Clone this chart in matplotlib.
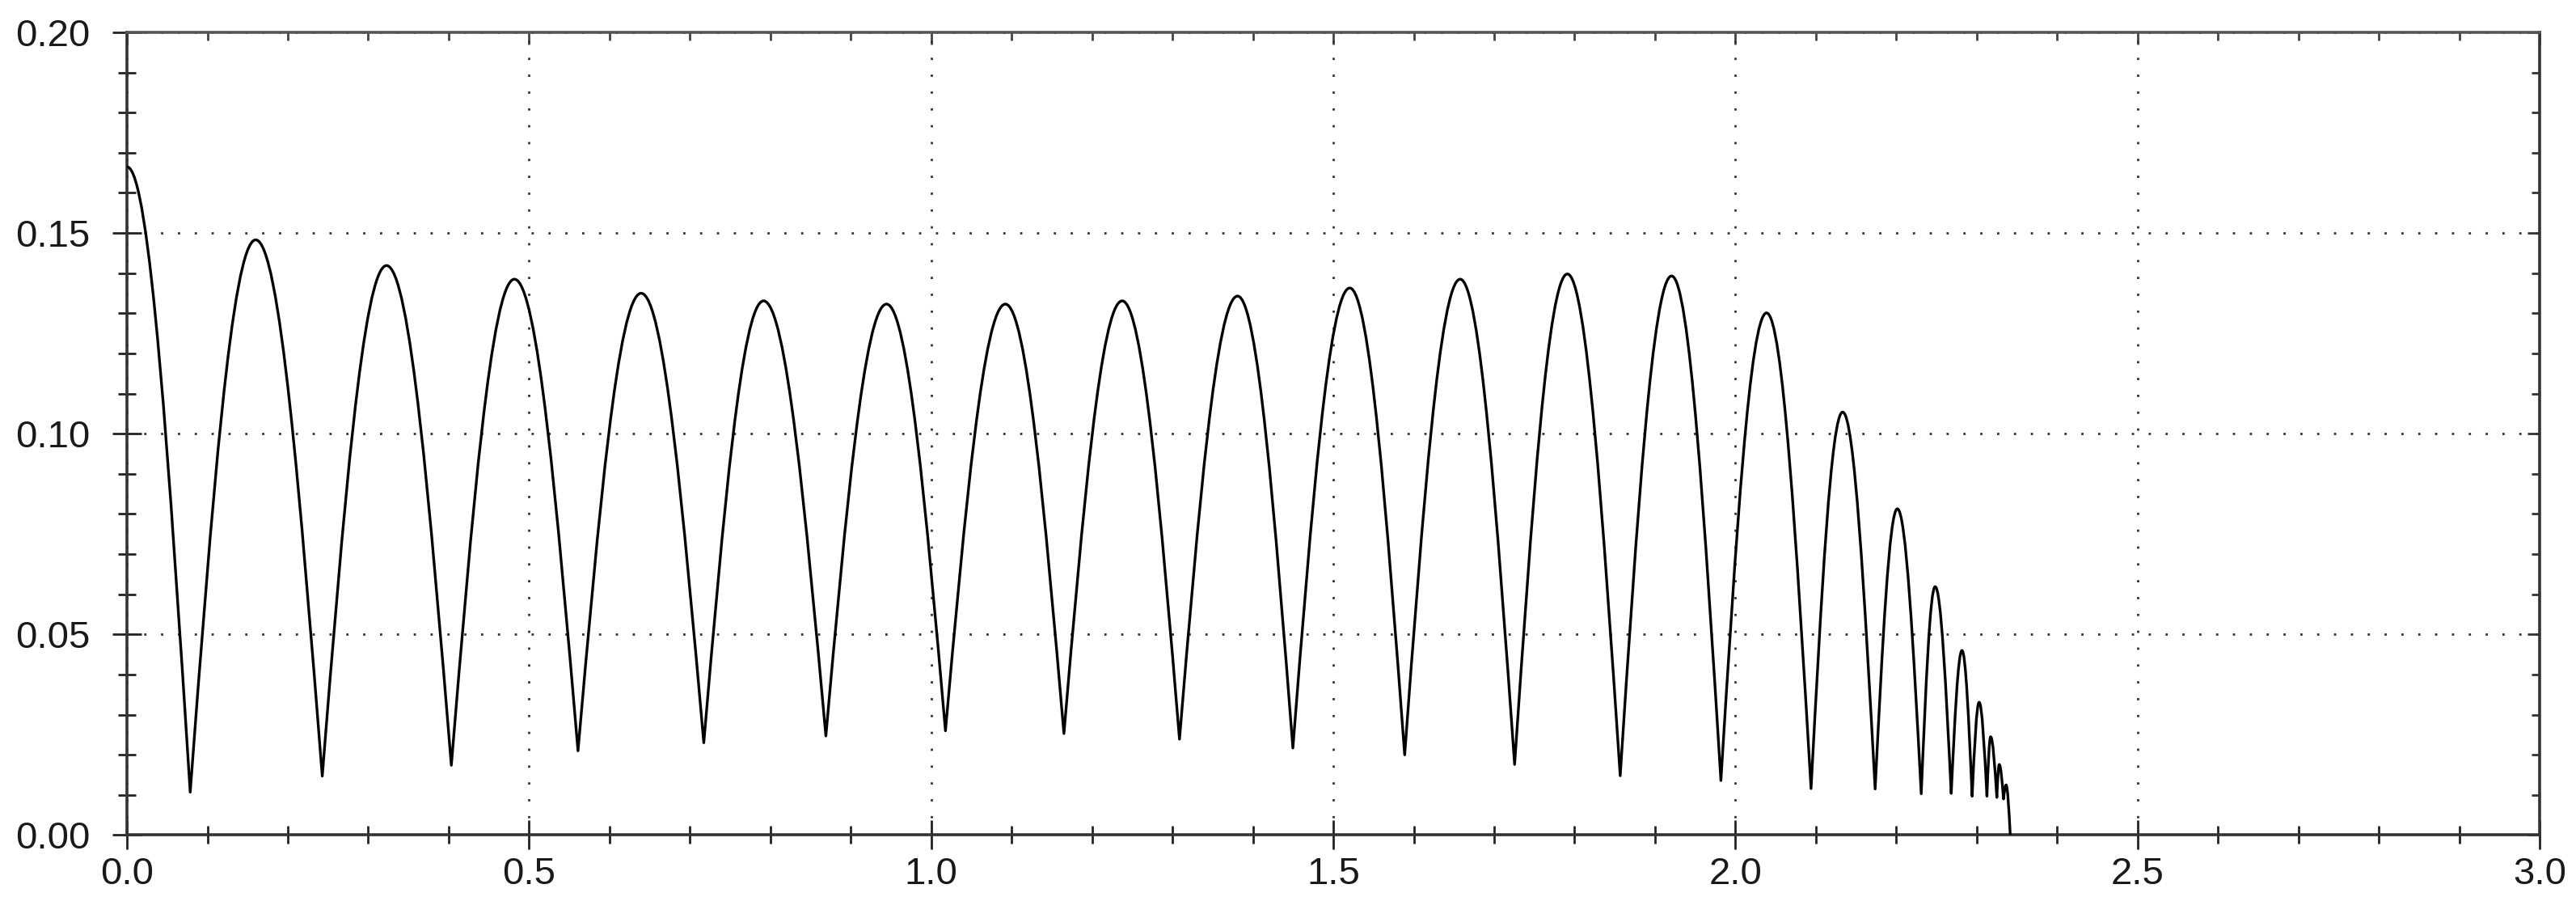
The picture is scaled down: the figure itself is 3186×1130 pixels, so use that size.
import matplotlib
matplotlib.use("Agg")
import matplotlib.pyplot as plt
from matplotlib.path import Path
from matplotlib.patches import PathPatch
from matplotlib.ticker import MultipleLocator, FormatStrFormatter

# arch tops (x, y)
peak_x = [0.0, 0.160, 0.3227, 0.4817, 0.6393, 0.7915, 0.9444, 1.0922, 1.2374,
          1.3809, 1.5204, 1.6577, 1.791, 1.9206, 2.0387, 2.1333, 2.2013,
          2.2483, 2.2817, 2.303, 2.3173, 2.328, 2.3365]
peak_y = [0.1665, 0.1483, 0.1419, 0.1385, 0.1350, 0.1331, 0.1323, 0.1323,
          0.1331, 0.1343, 0.1363, 0.1385, 0.1398, 0.1393, 0.1301, 0.1054,
          0.0813, 0.0619, 0.0460, 0.0331, 0.0245, 0.0176, 0.0125]

# dips between the arches, last entry is where the curve ends
trough_x = [0.0786, 0.2428, 0.4033, 0.5608, 0.7172, 0.8690, 1.0177, 1.1650,
            1.3087, 1.4497, 1.5887, 1.7254, 1.8567, 1.9819, 2.094, 2.1737,
            2.231, 2.2683, 2.2943, 2.3127, 2.3250, 2.3333, 2.3417]
trough_y = [0.0107, 0.0147, 0.0174, 0.0210, 0.0230, 0.0247, 0.0260, 0.0253,
            0.0239, 0.0217, 0.0200, 0.0176, 0.0148, 0.0136, 0.0116, 0.0115,
            0.0103, 0.0104, 0.0097, 0.0097, 0.0094, 0.0090, 0.0]

x_ticks = [0.0, 0.5, 1.0, 1.5, 2.0, 2.5, 3.0]
y_ticks = [0.00, 0.05, 0.10, 0.15, 0.20]

# key points alternate peak, trough, peak, ...
keys = []
for i in range(len(peak_x)):
    keys.append((peak_x[i], peak_y[i], 'p'))
    keys.append((trough_x[i], trough_y[i], 't'))

verts = [(keys[0][0], keys[0][1])]
codes = [Path.MOVETO]
for a, b in zip(keys[:-1], keys[1:]):
    dx = b[0] - a[0]
    dy = b[1] - a[1]
    if a[2] == 't':
        # rising half of a sine arch
        c1 = (a[0] + 0.3265 * dx, a[1] + 0.5128 * dy)
        c2 = (a[0] + 0.6381 * dx, b[1])
    else:
        # falling half
        c1 = (a[0] + 0.3619 * dx, a[1])
        c2 = (a[0] + 0.6735 * dx, a[1] + 0.4872 * dy)
    verts += [c1, c2, (b[0], b[1])]
    codes += [Path.CURVE4] * 3

plt.rcParams['font.family'] = ['Liberation Sans', 'DejaVu Sans']

fig = plt.figure(figsize=(31.86, 11.30), dpi=100)
ax = fig.add_axes([0.0493, 0.0863, 0.9366, 0.8783])

ax.add_patch(PathPatch(Path(verts, codes), fill=False, edgecolor='black',
                       lw=2.4, zorder=3, joinstyle='round'))

ax.set_xlim(0, 3)
ax.set_ylim(0, 0.2)
ax.set_xticks(x_ticks)
ax.set_yticks(y_ticks)
ax.xaxis.set_minor_locator(MultipleLocator(0.1))
ax.yaxis.set_minor_locator(MultipleLocator(0.01))
ax.xaxis.set_major_formatter(FormatStrFormatter('%.1f'))
ax.yaxis.set_major_formatter(FormatStrFormatter('%.2f'))

ax.grid(True, which='major', linestyle=(0, (1, 6.5)), color='#333333', lw=2.0)

ax.tick_params(which='major', direction='inout', length=26, width=2,
               labelsize=34, labelcolor='#1a1a1a', color='#222222')
ax.tick_params(which='minor', direction='inout', length=16, width=2,
               color='#222222')
ax.tick_params(axis='x', which='major', pad=6)
ax.tick_params(axis='y', which='major', pad=20)

for s in ax.spines.values():
    s.set_linewidth(2.6)
    s.set_color('#333333')
ax.spines['top'].set_color('#555555')

# top and right edges only carry inward ticks
top = ax.secondary_xaxis('top')
top.set_xticks(x_ticks)
top.xaxis.set_minor_locator(MultipleLocator(0.1))
top.tick_params(which='major', direction='in', length=11, width=2,
                labeltop=False, color='#444444')
top.tick_params(which='minor', direction='in', length=7, width=2,
                color='#444444')
top.spines['top'].set_visible(False)

right = ax.secondary_yaxis('right')
right.set_yticks(y_ticks)
right.yaxis.set_minor_locator(MultipleLocator(0.01))
right.tick_params(which='major', direction='in', length=11, width=2,
                  labelright=False, color='#333333')
right.tick_params(which='minor', direction='in', length=7, width=2,
                  color='#333333')
right.spines['right'].set_visible(False)

fig.savefig('out.png', dpi=100)
